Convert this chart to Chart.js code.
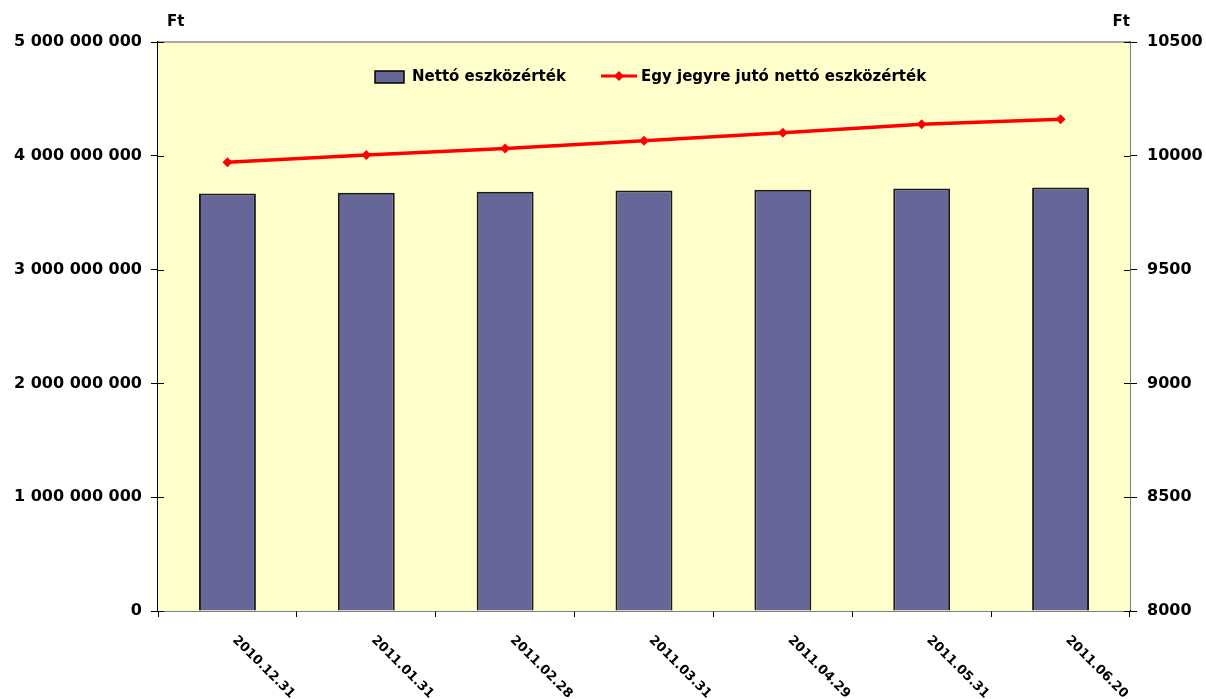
<!DOCTYPE html>
<html>
<head>
<meta charset="utf-8">
<script src="https://cdn.jsdelivr.net/npm/chart.js@4"></script>
<style>
  html, body { margin: 0; padding: 0; background: #fff; }
  .chart__box { width: 1206px; height: 699px; position: relative; }
</style>
</head>
<body>
<div class="chart__box"><canvas id="chart"></canvas></div>
<script>
const dates = ["2010.12.31", "2011.01.31", "2011.02.28", "2011.03.31", "2011.04.29", "2011.05.31", "2011.06.20"];
const netAssets = [3668000000, 3675000000, 3683000000, 3694000000, 3701000000, 3712000000, 3721000000];
const perUnit = [9972, 10003, 10032, 10066, 10101, 10139, 10161];
const leftTicks = [0, 1000000000, 2000000000, 3000000000, 4000000000, 5000000000];
const rightTicks = [8000, 8500, 9000, 9500, 10000, 10500];
const unitLabel = "Ft";

const FONT = "'DejaVu Sans', sans-serif";
Chart.defaults.color = "#000";
Chart.defaults.font.family = FONT;
Chart.defaults.font.weight = "bold";

const spaced = (v) => String(v).replace(/\B(?=(\d{3})+(?!\d))/g, " ");

// background, inner tick halves, rotated date labels, "Ft", legend
const decorations = {
  id: "decorations",
  beforeDatasetsDraw(chart) {
    const { ctx, chartArea: a } = chart;
    ctx.save();
    ctx.fillStyle = "#FFFFCC";
    ctx.fillRect(a.left, a.top, a.right - a.left, a.bottom - a.top);
    ctx.strokeStyle = "#8c8c8c";
    ctx.lineWidth = 1.5;
    ctx.beginPath();
    ctx.moveTo(a.left, a.top);
    ctx.lineTo(a.right, a.top);
    ctx.stroke();
    ctx.restore();
  },
  afterDraw(chart) {
    const { ctx, chartArea: a, scales } = chart;
    ctx.save();
    // inside part of the crossing tick marks
    ctx.strokeStyle = "#000";
    ctx.lineWidth = 1;
    ctx.beginPath();
    scales.y.ticks.forEach((t, i) => {
      const y = Math.round(scales.y.getPixelForTick(i)) + 0.5;
      ctx.moveTo(a.left, y);
      ctx.lineTo(a.left + 6, y);
    });
    scales.y2.ticks.forEach((t, i) => {
      const y = Math.round(scales.y2.getPixelForTick(i)) + 0.5;
      ctx.moveTo(a.right, y);
      ctx.lineTo(a.right - 6, y);
    });
    ctx.stroke();

    // date labels, rotated down to the right
    ctx.fillStyle = "#000";
    ctx.font = "bold 13px " + FONT;
    ctx.textAlign = "left";
    ctx.textBaseline = "middle";
    dates.forEach((d, i) => {
      const x = scales.x.getPixelForValue(i) + 7;
      ctx.save();
      ctx.translate(x, a.bottom + 27);
      ctx.rotate(Math.PI / 4);
      ctx.fillText(d, 0, 0);
      ctx.restore();
    });

    // unit labels above the axes
    ctx.font = "bold 15px " + FONT;
    ctx.textAlign = "left";
    ctx.fillText(unitLabel, a.left + 9, 22);
    ctx.textAlign = "right";
    ctx.fillText(unitLabel, a.right, 22);

    // legend inside the plot area
    const ly = a.top + 35;
    const bar = chart.data.datasets[1];
    const line = chart.data.datasets[0];
    ctx.font = "bold 15px " + FONT;
    ctx.textAlign = "left";
    ctx.fillStyle = bar.backgroundColor;
    ctx.fillRect(375, ly - 6, 29, 12);
    ctx.strokeStyle = "#000";
    ctx.lineWidth = 1.5;
    ctx.strokeRect(375, ly - 6, 29, 12);
    ctx.fillStyle = "#000";
    ctx.fillText(bar.label, 412, ly);

    ctx.strokeStyle = line.borderColor;
    ctx.lineWidth = 3;
    ctx.beginPath();
    ctx.moveTo(601, ly - 1);
    ctx.lineTo(637, ly - 1);
    ctx.stroke();
    ctx.fillStyle = line.borderColor;
    ctx.beginPath();
    ctx.moveTo(619, ly - 6);
    ctx.lineTo(624, ly - 1);
    ctx.lineTo(619, ly + 4);
    ctx.lineTo(614, ly - 1);
    ctx.closePath();
    ctx.fill();
    ctx.fillStyle = "#000";
    ctx.fillText(line.label, 641, ly);
    ctx.restore();
  },
};

new Chart(document.getElementById("chart"), {
  data: {
    labels: dates,
    datasets: [
      {
        type: "line",
        label: "Egy jegyre jutó nettó eszközérték",
        data: perUnit,
        yAxisID: "y2",
        borderColor: "#FF0000",
        backgroundColor: "#FF0000",
        borderWidth: 3.5,
        pointStyle: "rectRot",
        pointRadius: 5,
        pointBorderWidth: 0,
        tension: 0,
        order: 0,
      },
      {
        type: "bar",
        label: "Nettó eszközérték",
        data: netAssets,
        yAxisID: "y",
        backgroundColor: "#666699",
        borderColor: "#1a1a1a",
        borderWidth: 2,
        barPercentage: 0.41,
        categoryPercentage: 1,
        order: 1,
      },
    ],
  },
  options: {
    responsive: true,
    maintainAspectRatio: false,
    animation: false,
    layout: { padding: { top: 42, left: 0, right: 0, bottom: 0 } },
    plugins: {
      legend: { display: false },
      tooltip: { enabled: false },
    },
    scales: {
      x: {
        offset: true,
        ticks: { display: false },
        grid: {
          offset: true,
          drawOnChartArea: false,
          tickLength: 6,
          tickColor: "#000",
        },
        border: { display: true, color: "#000", width: 1.5 },
        afterFit: (s) => { s.height = 88; },
      },
      y: {
        position: "left",
        min: 0,
        max: 5000000000,
        afterBuildTicks: (s) => { s.ticks = leftTicks.map((v) => ({ value: v })); },
        ticks: {
          padding: 9,
          font: { size: 16, weight: "bold" },
          callback: (v) => spaced(v),
        },
        grid: { drawOnChartArea: false, tickLength: 7, tickColor: "#000" },
        border: { display: true, color: "#000", width: 1.5 },
        afterFit: (s) => { s.width = 158; },
      },
      y2: {
        position: "right",
        min: 8000,
        max: 10500,
        afterBuildTicks: (s) => { s.ticks = rightTicks.map((v) => ({ value: v })); },
        ticks: {
          padding: 10,
          font: { size: 16, weight: "bold" },
          callback: (v) => String(v),
        },
        grid: { drawOnChartArea: false, tickLength: 7, tickColor: "#000" },
        border: { display: true, color: "#000", width: 1.5 },
        afterFit: (s) => { s.width = 76; },
      },
    },
  },
  plugins: [decorations],
});
</script>
</body>
</html>
